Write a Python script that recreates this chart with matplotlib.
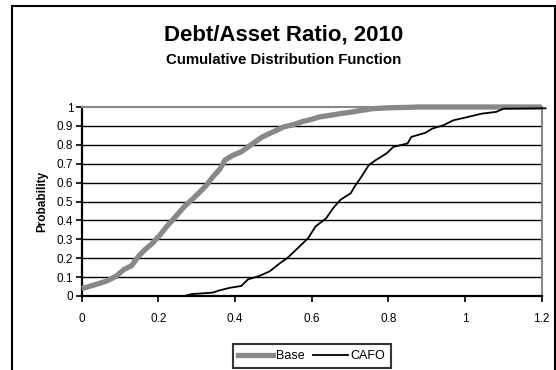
import matplotlib
matplotlib.use("Agg")
import matplotlib.pyplot as plt
from matplotlib.lines import Line2D
from matplotlib.patches import Rectangle

plt.rcParams['font.family'] = ['Liberation Sans', 'DejaVu Sans']

# Debt/asset ratio CDF points (ratio, cumulative probability)
base_x = [0.0, 0.009, 0.035, 0.065, 0.09, 0.11, 0.13, 0.148, 0.165, 0.185, 0.205, 0.222,
          0.245, 0.268, 0.29, 0.305, 0.325, 0.342, 0.36, 0.374, 0.395, 0.416, 0.435, 0.453,
          0.47, 0.49, 0.51, 0.527, 0.55, 0.573, 0.6, 0.619, 0.645, 0.675, 0.7, 0.73, 0.758,
          0.804, 0.85, 0.878, 1.2]
base_y = [0.04, 0.044, 0.06, 0.079, 0.105, 0.14, 0.16, 0.21, 0.245, 0.28, 0.325, 0.368,
          0.42, 0.474, 0.515, 0.544, 0.585, 0.63, 0.67, 0.72, 0.745, 0.763, 0.79, 0.816,
          0.84, 0.86, 0.878, 0.895, 0.905, 0.921, 0.935, 0.947, 0.955, 0.965, 0.972, 0.982,
          0.991, 0.996, 0.998, 1.0, 1.0]

cafo_x = [0.268, 0.287, 0.342, 0.36, 0.388, 0.416, 0.434, 0.462, 0.49, 0.518, 0.536,
          0.564, 0.591, 0.61, 0.638, 0.656, 0.675, 0.702, 0.712, 0.73, 0.749, 0.767,
          0.795, 0.813, 0.85, 0.86, 0.896, 0.915, 0.943, 0.97, 1.007, 1.044, 1.081, 1.1,
          1.2, 1.21]
cafo_y = [0.0, 0.01, 0.018, 0.03, 0.044, 0.053, 0.088, 0.105, 0.13, 0.175, 0.2,
          0.254, 0.307, 0.368, 0.412, 0.465, 0.509, 0.544, 0.579, 0.632, 0.693, 0.719,
          0.754, 0.789, 0.807, 0.842, 0.863, 0.886, 0.903, 0.93, 0.947, 0.965, 0.974, 0.991,
          0.993, 0.993]

x_ticks = [0, 0.2, 0.4, 0.6, 0.8, 1, 1.2]
x_labels = ['0', '0.2', '0.4', '0.6', '0.8', '1', '1.2']
y_ticks = [0, 0.1, 0.2, 0.3, 0.4, 0.5, 0.6, 0.7, 0.8, 0.9, 1]
y_labels = ['0', '0.1', '0.2', '0.3', '0.4', '0.5', '0.6', '0.7', '0.8', '0.9', '1']

fig = plt.figure(figsize=(5.56, 3.70), dpi=100)

# chart frame (bottom runs off the page)
fig.patches.append(Rectangle((12 / 556, -0.05), 543 / 556, 1 - 6 / 370 + 0.05,
                             transform=fig.transFigure, fill=False,
                             edgecolor='black', linewidth=1.5))

ax = fig.add_axes([81.7 / 556, 74 / 370, 460 / 556, 189 / 370])
ax.set_xlim(0, 1.2)
ax.set_ylim(0, 1)

for v in y_ticks[1:-1]:
    ax.axhline(v, color='black', linewidth=1.0, zorder=1)

ax.plot(base_x, base_y, color='#888888', linewidth=3.8, solid_capstyle='butt',
        zorder=3, clip_on=False, label='Base')
ax.plot(cafo_x, cafo_y, color='black', linewidth=1.3, zorder=4, clip_on=False,
        label='CAFO')

for side in ['top', 'right']:
    ax.spines[side].set_color('#888888')
    ax.spines[side].set_linewidth(1.5)
for side in ['left', 'bottom']:
    ax.spines[side].set_color('black')
    ax.spines[side].set_linewidth(1.6)

ax.set_xticks(x_ticks)
ax.set_xticklabels(x_labels)
ax.set_yticks(y_ticks)
ax.set_yticklabels(y_labels)
ax.tick_params(axis='both', direction='out', length=4, width=1.2, color='black',
               labelsize=8.5)
ax.tick_params(axis='x', pad=8)
ax.tick_params(axis='y', pad=2)

ax.set_ylabel('Probability', fontsize=8.5, fontweight='bold', labelpad=6)

# titles centred on the chart frame
cx = 284 / 556
fig.text(cx, 1 - 35 / 370, 'Debt/Asset Ratio, 2010', ha='center', va='center',
         fontsize=16, fontweight='bold')
fig.text(cx, 1 - 60 / 370, 'Cumulative Distribution Function', ha='center',
         va='center', fontsize=10.8, fontweight='bold')

handles = [Line2D([], [], color='#888888', linewidth=3.8),
           Line2D([], [], color='black', linewidth=1.3)]
leg = fig.legend(handles, ['Base', 'CAFO'], loc='center',
                 bbox_to_anchor=(312 / 556, 1 - 356 / 370), ncol=2, fontsize=9,
                 frameon=True, fancybox=False, handlelength=2.8, handletextpad=0.2,
                 columnspacing=0.7, borderpad=0.45, borderaxespad=0)
leg.get_frame().set_edgecolor('black')
leg.get_frame().set_linewidth(1.5)

fig.savefig('out.png', dpi=100)
